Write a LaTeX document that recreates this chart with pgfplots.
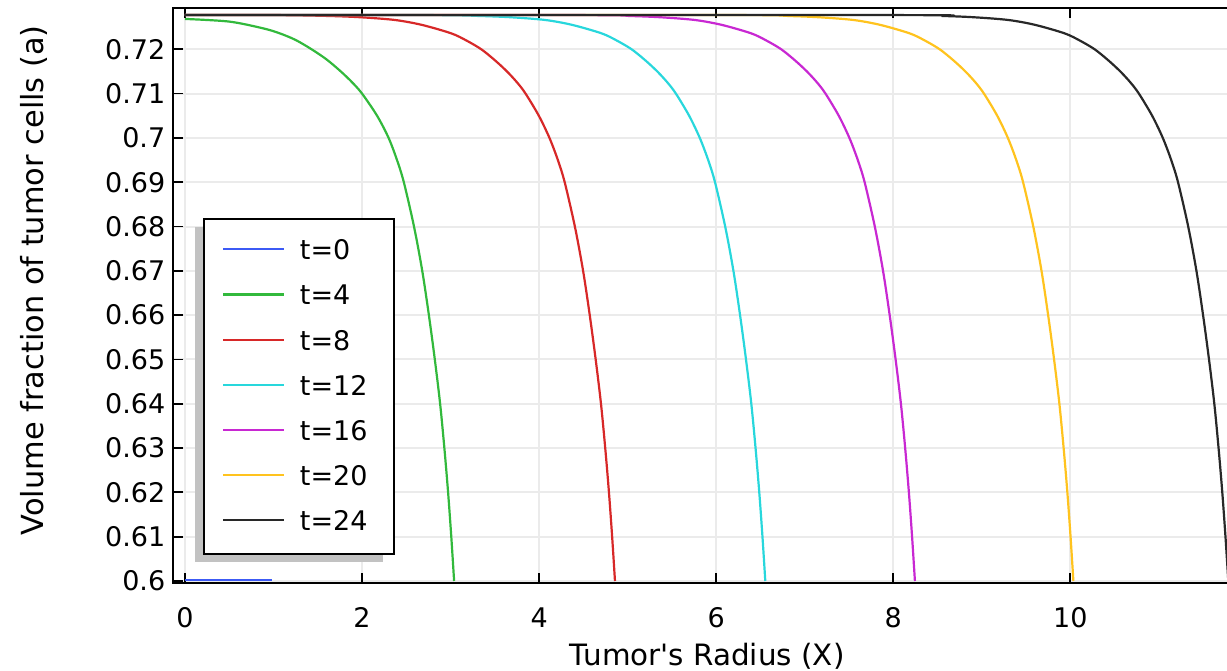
\documentclass[border=0pt]{standalone}
\usepackage{pgfplots}
\pgfplotsset{compat=1.18}
\usepackage{fontspec}
\setmainfont{DejaVu Sans}
\definecolor{cblue}{RGB}{60,90,245}
\definecolor{cgreen}{RGB}{50,185,60}
\definecolor{cred}{RGB}{215,40,40}
\definecolor{ccyan}{RGB}{40,215,220}
\definecolor{cmag}{RGB}{200,40,210}
\definecolor{cyel}{RGB}{255,195,30}
\definecolor{cblk}{RGB}{40,40,40}
\newcommand{\lent}[1]{\makebox[38pt][l]{#1}}
\begin{document}
\begin{tikzpicture}
\begin{axis}[
  at={(86.65pt,43.5pt)}, anchor=south west,
  scale only axis, width=527.55pt, height=287.35pt,
  xmin=-0.132, xmax=11.786, ymin=0.59955, ymax=0.72925,
  xtick={0,2,4,6,8,10},
  ytick={0.6,0.61,0.62,0.63,0.64,0.65,0.66,0.67,0.68,0.69,0.7,0.71,0.72},
  yticklabels={0.6,0.61,0.62,0.63,0.64,0.65,0.66,0.67,0.68,0.69,0.7,0.71,0.72},
  scaled ticks=false,
  tick align=inside, xtick pos=both, ytick pos=left,
  major tick length=5pt,
  tick style={black, line width=0.9pt},
  axis line style={black, line width=0.9pt},
  grid=major,
  major grid style={line width=1pt, color=black!8},
  /pgf/number format/assume math mode=true,
  ticklabel style={font=\fontsize{13.5}{16}\selectfont},
  xticklabel style={anchor=base, yshift=-22.4pt},
  yticklabel style={anchor=east, xshift=-0.5pt},
  xlabel={Tumor\textquotesingle s Radius (X)},
  ylabel={Volume fraction of tumor cells (a)},
  xlabel style={font=\fontsize{14.7}{17}\selectfont, at={([yshift=-41pt]axis description cs:0.506,0)}, anchor=base},
  ylabel style={font=\fontsize{15.2}{18}\selectfont, at={([xshift=-65pt]axis description cs:0,0.527)}, anchor=base, rotate=0},
  legend style={at={(axis description cs:0.0284,0.6346)}, anchor=north west,
    draw=black, line width=0.9pt, fill=white, inner xsep=9pt, inner ysep=4.8pt,
    font=\fontsize{13.5}{16}\selectfont, nodes={inner sep=0pt},
    /tikz/every odd column/.style={column sep=7.3pt}},
  legend cell align=left,
  legend image code/.code={\path[draw=none,fill=none] (0pt,-11.28pt) rectangle (30.5pt,11.28pt); \draw[#1] (0pt,1pt) -- (30.5pt,1pt);},
  every axis plot/.append style={line width=1.1pt},
]
\addplot[cblue] coordinates {(0,0.6002) (0.98,0.6002)};
\addlegendentry{\lent{t=0}}
\addplot[cgreen, smooth] coordinates {
(0,0.72685) (0.5,0.72625) (0.88,0.72474) (1.07,0.7236) (1.25,0.7221) (1.43,0.7200)
(1.6,0.7177) (1.76,0.7150) (1.89,0.7125) (2.0,0.7100) (2.17,0.7050) (2.30,0.7000)
(2.395,0.6950) (2.472,0.6900) (2.587,0.6800) (2.68,0.6700) (2.755,0.6600) (2.822,0.6500)
(2.882,0.6400) (2.93,0.6300) (2.972,0.6200) (3.008,0.6100) (3.04,0.6000)};
\addlegendentry{\lent{t=4}}
\addplot[cred, smooth] coordinates {
(0,0.72775) (1.057,0.72772) (1.657,0.7275) (2.007,0.7272) (2.377,0.7266) (2.677,0.7255)
(3.007,0.7236) (3.177,0.7220) (3.347,0.7200) (3.502,0.7175) (3.637,0.7150) (3.752,0.7125)
(3.847,0.7100) (3.997,0.7050) (4.117,0.7000) (4.212,0.6950) (4.289,0.6900) (4.404,0.6800)
(4.497,0.6700) (4.572,0.6600) (4.639,0.6500) (4.699,0.6400) (4.747,0.6300) (4.789,0.6200)
(4.825,0.6100) (4.857,0.6000)};
\addlegendentry{\lent{t=8}}
\addplot[ccyan, smooth] coordinates {
(0,0.72775) (2.755,0.72772) (3.355,0.7275) (3.705,0.7272) (4.075,0.7266) (4.375,0.7255)
(4.705,0.7236) (4.875,0.7220) (5.045,0.7200) (5.200,0.7175) (5.335,0.7150) (5.450,0.7125)
(5.545,0.7100) (5.695,0.7050) (5.815,0.7000) (5.910,0.6950) (5.987,0.6900) (6.102,0.6800)
(6.195,0.6700) (6.270,0.6600) (6.337,0.6500) (6.397,0.6400) (6.445,0.6300) (6.487,0.6200)
(6.523,0.6100) (6.555,0.6000)};
\addlegendentry{\lent{t=12}}
\addplot[cmag, smooth] coordinates {
(0,0.72775) (4.445,0.72772) (5.045,0.7275) (5.395,0.7272) (5.765,0.7266) (6.065,0.7255)
(6.395,0.7236) (6.565,0.7220) (6.735,0.7200) (6.890,0.7175) (7.025,0.7150) (7.140,0.7125)
(7.235,0.7100) (7.385,0.7050) (7.505,0.7000) (7.600,0.6950) (7.677,0.6900) (7.792,0.6800)
(7.885,0.6700) (7.960,0.6600) (8.027,0.6500) (8.087,0.6400) (8.135,0.6300) (8.177,0.6200)
(8.213,0.6100) (8.245,0.6000)};
\addlegendentry{\lent{t=16}}
\addplot[cyel, smooth] coordinates {
(0,0.72775) (6.235,0.72772) (6.835,0.7275) (7.185,0.7272) (7.555,0.7266) (7.855,0.7255)
(8.185,0.7236) (8.355,0.7220) (8.525,0.7200) (8.680,0.7175) (8.815,0.7150) (8.930,0.7125)
(9.025,0.7100) (9.175,0.7050) (9.295,0.7000) (9.390,0.6950) (9.467,0.6900) (9.582,0.6800)
(9.675,0.6700) (9.750,0.6600) (9.817,0.6500) (9.877,0.6400) (9.925,0.6300) (9.967,0.6200)
(10.003,0.6100) (10.035,0.6000)};
\addlegendentry{\lent{t=20}}
\addplot[cblk, smooth] coordinates {
(0,0.72775) (7.985,0.72772) (8.585,0.7275) (8.935,0.7272) (9.305,0.7266) (9.605,0.7255)
(9.935,0.7236) (10.105,0.7220) (10.275,0.7200) (10.430,0.7175) (10.565,0.7150) (10.680,0.7125)
(10.775,0.7100) (10.925,0.7050) (11.045,0.7000) (11.140,0.6950) (11.217,0.6900) (11.332,0.6800)
(11.425,0.6700) (11.500,0.6600) (11.567,0.6500) (11.627,0.6400) (11.675,0.6300) (11.717,0.6200)
(11.753,0.6100) (11.785,0.6000)};
\addlegendentry{\lent{t=24}}
\fill[black!24] (rel axis cs:0.0206,0.0372) rectangle (rel axis cs:0.1991,0.6202);
\end{axis}
\pgfresetboundingbox
\path[use as bounding box] (0,0) rectangle (613.5pt,335pt);
\end{tikzpicture}
\end{document}
